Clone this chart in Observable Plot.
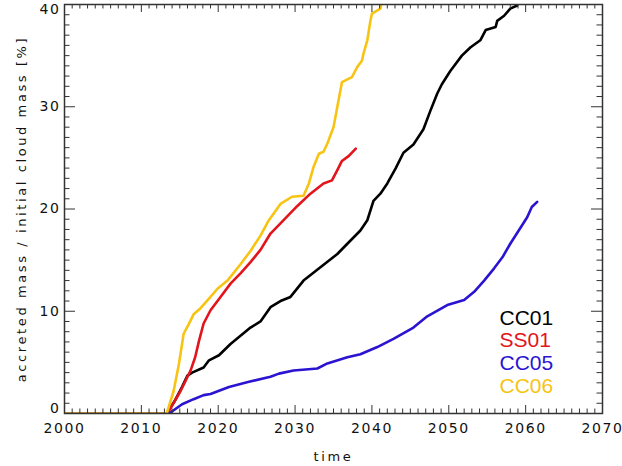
<!DOCTYPE html>
<html>
<head>
<meta charset="utf-8">
<script src="https://cdn.jsdelivr.net/npm/d3@7"></script>
<script src="https://cdn.jsdelivr.net/npm/@observablehq/plot@0.6"></script>
<style>
  html, body { margin: 0; padding: 0; background: #fff; }
  #chart svg .tick-label text, #chart svg text.tick-label { letter-spacing: 1.6px; }
  #chart svg .axis-title text, #chart svg text.axis-title { letter-spacing: 2.6px; }
</style>
</head>
<body>
<div id="chart"></div>
<script>
// ---- data ----
const seriesNames = ["CC01", "SS01", "CC05", "CC06"];
const seriesColors = ["#000000", "#e3141c", "#2a14d2", "#f7c413"];

const cc01_t = [2000, 2013.3, 2014.4, 2015.3, 2016.0, 2016.6, 2018.1, 2018.8, 2020.1, 2021.6, 2022.9, 2024.2, 2025.5, 2026.8, 2028.1, 2029.4, 2031.1, 2033.3, 2035.5, 2036.8, 2038.5, 2039.4, 2040.2, 2041.1, 2042.0, 2043.1, 2044.1, 2045.4, 2046.7, 2047.6, 2048.5, 2049.1, 2050.2, 2051.7, 2052.8, 2054.1, 2054.8, 2056.1, 2056.3, 2057.2, 2058.0, 2058.9];
const cc01_v = [0, 0, 1.3, 2.6, 3.7, 4.0, 4.5, 5.2, 5.7, 6.8, 7.6, 8.4, 9.0, 10.4, 11.0, 11.4, 13.0, 14.3, 15.6, 16.6, 17.9, 18.9, 20.8, 21.5, 22.5, 24.0, 25.5, 26.3, 27.8, 29.6, 31.3, 32.2, 33.5, 35.0, 35.8, 36.5, 37.5, 37.8, 38.4, 38.9, 39.6, 39.9];

const ss01_t = [2000, 2013.4, 2015.1, 2016.4, 2017.0, 2017.5, 2018.1, 2019.0, 2020.3, 2021.6, 2022.9, 2024.2, 2025.5, 2026.8, 2028.1, 2030.3, 2032.0, 2033.7, 2034.8, 2035.5, 2036.1, 2037.0, 2037.9];
const ss01_v = [0, 0, 2.2, 4.2, 5.5, 7.1, 8.8, 10.1, 11.4, 12.7, 13.7, 14.8, 16.0, 17.6, 18.6, 20.3, 21.5, 22.5, 22.8, 23.8, 24.7, 25.2, 25.9];

const cc05_t = [2000, 2013.6, 2015.3, 2016.8, 2018.1, 2019.0, 2021.4, 2024.0, 2026.8, 2027.9, 2029.8, 2032.9, 2034.2, 2036.8, 2038.5, 2040.7, 2042.8, 2045.4, 2047.2, 2049.8, 2052.0, 2053.3, 2054.6, 2055.9, 2057.0, 2058.0, 2059.1, 2060.2, 2060.8, 2061.5];
const cc05_v = [0, 0, 0.9, 1.4, 1.8, 1.9, 2.6, 3.1, 3.6, 3.9, 4.2, 4.4, 4.9, 5.5, 5.8, 6.5, 7.3, 8.4, 9.5, 10.6, 11.1, 11.9, 13.0, 14.2, 15.3, 16.6, 17.9, 19.2, 20.2, 20.7];

const cc06_t = [2000, 2013.3, 2014.2, 2014.9, 2015.5, 2016.2, 2016.8, 2017.7, 2019.0, 2019.9, 2021.2, 2022.9, 2024.2, 2025.5, 2026.5, 2028.1, 2029.6, 2031.1, 2031.8, 2032.4, 2033.1, 2033.7, 2034.2, 2035.0, 2035.5, 2036.1, 2037.4, 2038.1, 2038.7, 2038.9, 2039.4, 2039.8, 2040.0, 2041.1, 2041.4];
const cc06_v = [0, 0, 2.2, 4.9, 7.8, 8.8, 9.7, 10.3, 11.4, 12.2, 13.0, 14.6, 15.9, 17.4, 18.8, 20.5, 21.2, 21.3, 22.5, 24.1, 25.4, 25.6, 26.4, 28.0, 30.0, 32.4, 32.9, 33.9, 34.5, 35.2, 36.5, 38.4, 39.1, 39.6, 40.6];

const xMajorTicks = [2000, 2010, 2020, 2030, 2040, 2050, 2060, 2070];
const yMajorTicks = [0, 10, 20, 30, 40];
const xTitle = "time";
const yTitle = "accreted mass / initial cloud mass [%]";

// ---- build table ----
const seriesT = [cc01_t, ss01_t, cc05_t, cc06_t];
const seriesV = [cc01_v, ss01_v, cc05_v, cc06_v];
const rows = [];
seriesNames.forEach((name, i) => {
  seriesT[i].forEach((t, j) => rows.push({name, t, v: seriesV[i][j]}));
});

const xMinorTicks = d3.range(2000, 2071, 1).filter(d => d % 10 !== 0);
const yMinorTicks = d3.range(0, 41, 1).filter(d => d % 10 !== 0);

const W = 622, H = 466;
const mL = 64, mR = 20, mT = 4, mB = 53;
const fw = W - mL - mR, fh = H - mT - mB;
const axisColor = "#333";

const chart = Plot.plot({
  width: W,
  height: H,
  marginLeft: mL,
  marginRight: mR,
  marginTop: mT,
  marginBottom: mB,
  style: {fontFamily: "DejaVu Sans", background: "#fff", overflow: "visible"},
  x: {domain: [2000, 2070]},
  y: {domain: [0, 40]},
  color: {domain: seriesNames, range: seriesColors},
  marks: [
    Plot.line(rows, {x: "t", y: "v", z: "name", stroke: "name", strokeWidth: 2.6, curve: "linear", clip: true}),
    // ticks (inward, all four sides)
    Plot.ruleX(xMinorTicks, {x: d => d, insetTop: fh - 4.5, stroke: axisColor, strokeWidth: 1}),
    Plot.ruleX(xMinorTicks, {x: d => d, insetBottom: fh - 4.5, stroke: axisColor, strokeWidth: 1}),
    Plot.ruleX(xMajorTicks, {x: d => d, insetTop: fh - 8, stroke: axisColor, strokeWidth: 1}),
    Plot.ruleX(xMajorTicks, {x: d => d, insetBottom: fh - 8, stroke: axisColor, strokeWidth: 1}),
    Plot.ruleY(yMinorTicks, {y: d => d, insetRight: fw - 5.5, stroke: axisColor, strokeWidth: 1}),
    Plot.ruleY(yMinorTicks, {y: d => d, insetLeft: fw - 5.5, stroke: axisColor, strokeWidth: 1}),
    Plot.ruleY(yMajorTicks, {y: d => d, insetRight: fw - 11, stroke: axisColor, strokeWidth: 1}),
    Plot.ruleY(yMajorTicks, {y: d => d, insetLeft: fw - 11, stroke: axisColor, strokeWidth: 1}),
    Plot.frame({stroke: axisColor, strokeWidth: 1.5}),
    // tick labels
    Plot.axisX({ticks: xMajorTicks, tickSize: 0, tickPadding: 10, tickFormat: d => String(d), label: null, fontSize: 14, fill: "#111", className: "tick-label"}),
    Plot.axisY({ticks: [10, 20, 30], tickSize: 0, tickPadding: 4, tickFormat: d => String(d), label: null, fontSize: 14, fill: "#111", className: "tick-label"}),
    Plot.axisY({ticks: [40], tickSize: 0, tickPadding: 4, tickFormat: d => String(d), label: null, fontSize: 14, dy: 5, fill: "#111", className: "tick-label"}),
    Plot.axisY({ticks: [0], tickSize: 0, tickPadding: 4, tickFormat: d => String(d), label: null, fontSize: 14, dy: -5, fill: "#111", className: "tick-label"}),
    // axis titles
    Plot.text([xTitle], {text: d => d, frameAnchor: "bottom", dy: 47, lineAnchor: "bottom", textAnchor: "middle", fontSize: 13, fill: "#111", className: "axis-title"}),
    Plot.text([yTitle], {text: d => d, frameAnchor: "left", rotate: -90, dx: -39, lineAnchor: "bottom", textAnchor: "middle", fontSize: 13, fill: "#111", className: "axis-title"}),
    // legend
    ...seriesNames.map((n, i) => Plot.text([n], {
      text: d => d, frameAnchor: "top-left", dx: 435, dy: 320 + i * 22.7,
      lineAnchor: "bottom", textAnchor: "start", fontSize: 21,
      fontFamily: "Liberation Sans", fill: seriesColors[i]
    }))
  ]
});
document.getElementById("chart").appendChild(chart);
</script>
</body>
</html>
